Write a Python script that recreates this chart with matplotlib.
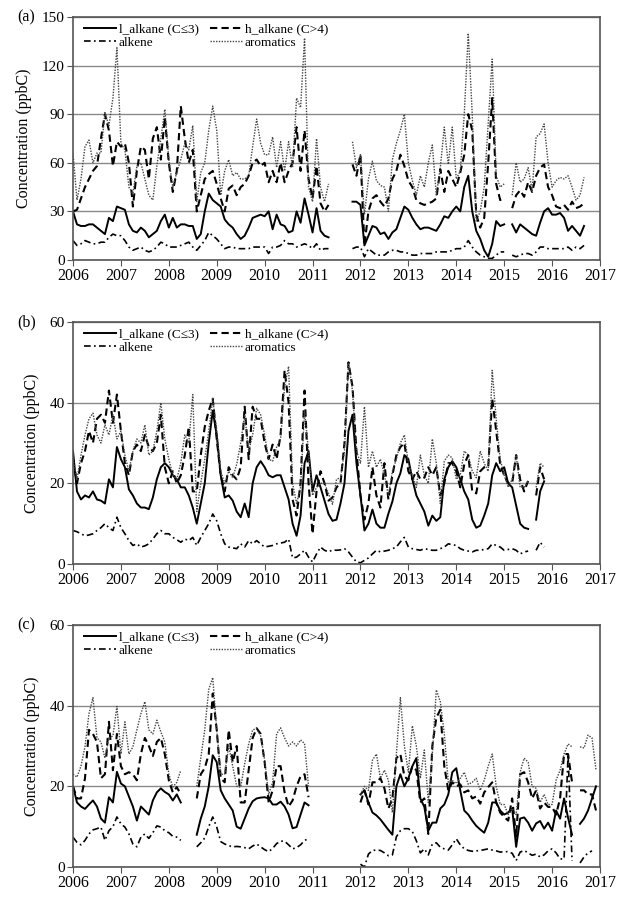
import numpy as np
import matplotlib
matplotlib.use("Agg")
import matplotlib.pyplot as plt

nan = np.nan
# monthly time axis, Jan 2006 .. Dec 2016
months = 2006 + np.arange(132) / 12.0

# ---- panel (a) ----
a_l_alkane = [
    30, 22, 21, 21, 22, 22, 20, 18, 16, 26, 24, 33,
    32, 31, 22, 18, 17, 20, 18, 14, 16, 18, 24, 28,
    20, 26, 20, 22, 22, 21, 21, 13, 16, 30, 41, 37,
    35, 33, 25, 22, 20, 16, 13, 15, 20, 26, 27, 28,
    27, 30, 19, 28, 22, 21, 17, 18, 30, 23, 38, 28,
    17, 32, 18, 15, 14, nan, nan, nan, nan, nan, 36, 36,
    34, 9, 15, 21, 20, 16, 17, 13, 17, 19, 26, 33,
    31, 26, 22, 19, 20, 20, 19, 18, 22, 27, 26, 30,
    33, 30, 45, 52, 30, 18, 13, 6, 2, 10, 24, 21,
    22, nan, 22, 17, 22, 20, 18, 16, 15, 23, 30, 32,
    28, 28, 29, 26, 18, 21, 18, 15, 21, nan, nan, nan]
a_h_alkane = [
    30, 31, 38, 45, 50, 55, 58, 75, 90, 80, 58, 73,
    70, 72, 60, 33, 55, 70, 68, 50, 75, 82, 62, 88,
    60, 42, 55, 95, 75, 60, 68, 30, 40, 50, 53, 55,
    47, 38, 30, 44, 46, 40, 45, 47, 52, 60, 62, 58,
    60, 48, 55, 48, 60, 48, 55, 60, 82, 55, 80, 50,
    38, 58, 35, 30, 34, nan, nan, nan, nan, nan, 59, 52,
    65, 9, 30, 38, 40, 36, 33, 38, 50, 55, 65, 58,
    49, 45, 37, 35, 34, 35, 36, 38, 56, 42, 55, 50,
    45, 54, 65, 90, 80, 28, 20, 26, 60, 100, 47, 37,
    38, nan, 32, 40, 43, 39, 48, 42, 52, 57, 59, 45,
    40, 33, 32, 34, 31, 36, 32, 33, 35, nan, nan, nan]
a_alkene = [
    12, 9, 10, 12, 11, 10, 10, 11, 11, 14, 16, 15,
    15, 12, 8, 6, 7, 8, 6, 5, 6, 8, 11, 10,
    8, 8, 8, 9, 10, 11, 8, 6, 9, 12, 17, 15,
    13, 10, 7, 8, 8, 7, 7, 7, 7, 8, 8, 8,
    8, 4, 8, 8, 9, 12, 10, 10, 8, 9, 10, 9,
    7, 10, 6, 7, 7, nan, nan, nan, nan, nan, 7, 8,
    8, 2, 7, 5, 3, 3, 3, 5, 6, 6, 5, 5,
    4, 3, 3, 4, 4, 4, 4, 5, 5, 5, 5, 6,
    7, 7, 8, 12, 8, 5, 3, 2, 1, 1, 3, 5,
    5, nan, 3, 2, 3, 4, 4, 3, 5, 8, 8, 7,
    7, 7, 7, 7, 8, 6, 8, 7, 9, nan, nan, nan]
a_aromatics = [
    66, 37, 50, 70, 74, 60, 66, 66, 91, 83, 100, 131,
    72, 68, 45, 41, 58, 60, 50, 40, 37, 58, 75, 93,
    62, 45, 54, 62, 72, 68, 83, 36, 54, 60, 80, 95,
    80, 40, 55, 62, 52, 54, 50, 50, 52, 70, 87, 72,
    65, 65, 76, 57, 73, 55, 73, 57, 100, 94, 137, 45,
    36, 75, 45, 36, 47, nan, nan, nan, nan, nan, 73, 57,
    65, 28, 50, 61, 49, 46, 45, 30, 62, 72, 80, 90,
    60, 49, 40, 52, 45, 60, 71, 40, 57, 82, 59, 82,
    50, 55, 90, 140, 90, 24, 30, 45, 84, 124, 52, 45,
    47, nan, 40, 60, 48, 50, 57, 43, 76, 78, 84, 60,
    45, 49, 51, 50, 52, 45, 37, 40, 51, nan, nan, nan]

# ---- panel (b) ----
b_l_alkane = [
    28, 18, 16, 17, 16.5, 18, 16, 15.7, 15, 21, 19, 29,
    26, 24, 18.5, 17, 15, 14, 14, 13.6, 16.5, 21, 24, 25,
    24, 22, 21, 19, 19, 17, 14, 10, 15, 20, 30, 38,
    32, 22, 16.5, 17, 15.7, 13, 11.6, 15, 11.6, 20, 24, 25.5,
    24, 22, 21.5, 22, 22, 19, 16, 10, 7, 12, 25, 28,
    18, 22, 19, 15.7, 12.4, 10.7, 11, 15, 20, 33, 37, 25,
    17, 8.3, 10, 13.5, 10, 9, 9, 12.5, 15.5, 20, 22.5, 27,
    26, 21, 17, 15, 13, 9.5, 12, 10.7, 11.6, 21, 24, 25.5,
    24, 21, 18, 16, 11, 9, 9.5, 12, 15, 22, 25, 23,
    24, 20, 19, 14.5, 10, 9, 8.7, nan, 11, 18, 20.5, nan,
    nan, nan, nan, nan, nan, nan, nan, nan, nan, nan, nan, nan]
b_h_alkane = [
    26, 20, 25, 28, 33, 30, 36, 37, 35, 43, 35, 42,
    33, 25, 22, 28, 29.6, 28, 32, 29, 28, 30, 37, 24,
    20, 23, 20, 22, 27, 34, 18, 18, 27, 34, 38, 41,
    31, 22, 18, 24, 22, 21, 24, 39, 26, 39, 36, 36,
    30, 26, 29.6, 26, 32, 48, 40, 16, 12, 20, 43, 20,
    7.5, 18, 23, 20, 15.7, 16.5, 19, 20, 30, 50, 44, 28,
    17, 11, 15, 24, 17, 14, 25, 16, 22, 27, 29, 30,
    23, 21, 23, 21, 21.4, 24, 22, 24, 17, 20, 25, 25,
    23, 19, 24.7, 27, 18, 17.5, 23, 24, 24, 41, 33, 24.7,
    22, 20, 20, 27, 21, 18, 20.6, nan, 17, 24, 21, nan,
    nan, nan, nan, nan, nan, nan, nan, nan, nan, nan, nan, nan]
b_alkene = [
    8.3, 8, 7.5, 7, 7.2, 7.5, 8.3, 9, 10, 9, 8.3, 11.6,
    9, 7.5, 5.8, 4.6, 5, 4.2, 4.5, 5, 6.2, 7.5, 8.3, 7.5,
    7.5, 6.6, 6, 5.4, 6.2, 5.8, 6.6, 4.6, 6.6, 8.3, 10, 12.4,
    10.7, 7.5, 5, 4.2, 4, 3.8, 5, 4.2, 5.8, 5, 5.8, 5,
    4.2, 4.4, 4.6, 5, 5.2, 5.4, 6.2, 1.5, 1.7, 2.5, 3.4, 1.7,
    0.5, 2.5, 4.2, 3.4, 3, 3.5, 3.4, 3.5, 3.8, 3, 1.7, 0.5,
    0.3, 0.9, 1.5, 2.5, 3.4, 3, 3.2, 3.4, 3.8, 4.2, 5.5, 6.6,
    4.2, 3.8, 3.6, 3.4, 3.8, 3.6, 3.4, 3.4, 3.8, 4.2, 5, 4.8,
    4.6, 3.8, 3.4, 3.2, 3, 3.4, 3.4, 3.6, 3.8, 5, 4.6, 4.2,
    3.4, 3.6, 3.8, 3.4, 2.5, 3, 3.2, nan, 3.4, 5.4, 4.2, nan,
    nan, nan, nan, nan, nan, nan, nan, nan, nan, nan, nan, nan]
b_aromatics = [
    26, 21, 27, 32, 36, 37.4, 32, 30, 34.5, 32, 37, 31,
    33, 27, 23, 28, 31, 30, 34.5, 27, 28, 33, 40, 31,
    26, 22, 21, 25, 32, 30, 42, 13, 20, 26, 33, 41,
    33, 23, 20, 23, 21.4, 24.7, 30, 37, 28, 32, 38.6, 37,
    32, 26, 25.5, 29, 31, 44, 49, 20, 15, 19, 38, 28,
    17, 19, 20, 20, 17.5, 14.8, 21, 21.4, 28, 50, 43, 28,
    25, 39, 24, 28, 24, 26, 22, 17, 23, 26, 30, 32,
    25, 22, 19, 27, 22, 20, 31, 25, 15, 25.5, 27, 26.3,
    21, 22, 28, 27, 23, 21.4, 28, 25, 23, 48, 36, 26,
    22, 19, 21, 27, 19, 19, 20.6, nan, 19, 25, 24, nan,
    nan, nan, nan, nan, nan, nan, nan, nan, nan, nan, nan, nan]

# ---- panel (c) ----
c_l_alkane = [
    20, 16, 15, 14.4, 15.5, 16.5, 15, 12, 11, 17.3, 16, 23.6,
    20.7, 20, 17.5, 15, 11.5, 15, 14, 13, 16.5, 18.5, 19.5, 18.6,
    18, 16.5, 18, 16, nan, nan, nan, 8, 12, 15, 20, 27.7,
    26, 19, 17, 15.5, 14, 10, 9.5, 12, 14.5, 16.3, 17, 17.2,
    17.3, 17, 15.5, 15.5, 16.2, 15, 13, 9.6, 9.9, 13, 16, 15.3,
    nan, nan, nan, nan, nan, nan, nan, nan, nan, nan, nan, nan,
    18, 19, 16, 13.5, 12.8, 11.8, 10.5, 9.2, 8, 20, 23, 20,
    22, 25, 27, 17, 14.9, 9, 11, 11, 14.5, 15.5, 18, 23.5,
    24.5, 19, 14, 13, 11.5, 10.2, 9.3, 8.5, 11, 16, 16, 14,
    13, 13.5, 14.5, 5, 12, 12.3, 11, 9, 10.8, 11.4, 9.5, 11,
    9, 14, 12, 17, 12.2, 8, nan, 10.7, 12, 14, 17, 20]
c_h_alkane = [
    20, 17, 17, 22, 34, 33, 31, 22, 23, 36, 24, 33,
    25, 23, 23.5, 23, 21.5, 28, 32, 30, 27.5, 31, 32, 28,
    21.5, 18.5, 19.8, 18, nan, nan, nan, 17, 23, 24.5, 28, 43,
    34, 22, 21, 34, 26, 30, 16, 16, 24, 32, 34.4, 33,
    26, 16, 19, 25, 25, 18.5, 15, 16.5, 20, 22.5, 23, 17.3,
    nan, nan, nan, nan, nan, nan, nan, nan, nan, nan, nan, nan,
    16, 19, 15.5, 21, 21, 22, 19.5, 14.5, 17, 27, 28, 22.5,
    21.5, 25, 24, 16, 17, 8.2, 30, 37, 39, 25, 19, 21,
    20, 20.5, 18.5, 19, 17, 17.5, 15.7, 18.5, 19.8, 21, 16, 13.5,
    12.4, 11.5, 17, 7.5, 23, 23.5, 21, 17, 19, 14.5, 16, 14.9,
    14.9, 13, 17, 28, 28, 21, nan, 19, 19, 18, 18, 14]
c_alkene = [
    7.4, 6.1, 5.5, 6.6, 8.2, 9.2, 9.5, 9.9, 6.6, 9, 10, 12.4,
    10.7, 9.9, 8.2, 5.7, 5, 7.4, 8.2, 7.1, 8.5, 10.2, 9.9, 9,
    8.5, 7.6, 7.4, 6.6, nan, nan, nan, 5, 6, 7.2, 10, 12.4,
    9.9, 6.3, 5.7, 5.3, 5, 5.1, 5, 4.8, 4.5, 5.2, 5.7, 5,
    4.3, 3.8, 4.6, 5.8, 6.4, 6.4, 5.5, 4.5, 4.8, 5.5, 6.6, 7,
    nan, nan, nan, nan, nan, nan, nan, nan, nan, nan, nan, nan,
    0.7, 0, 3.2, 4.1, 4.2, 4.1, 3.5, 2.8, 3, 7.5, 9, 9.5,
    9.5, 8.8, 6.5, 3.5, 4.5, 3, 5.7, 6, 4.9, 4.5, 4.2, 5.5,
    7, 5.5, 4.5, 4.1, 3.9, 4, 4.1, 4.3, 4.5, 4.2, 4, 3.7,
    3.8, 3.8, 3.4, 1.6, 3.7, 4.1, 3.5, 2.9, 3.2, 2.5, 3, 4,
    4.5, 3.5, 2, 2, 28, 1.5, nan, 1, 2.5, 3.5, 4, nan]
c_aromatics = [
    23, 22.3, 25, 29.8, 38, 42, 32, 31, 27, 32, 32.5, 39.8,
    28, 36, 28, 29.8, 34, 38, 41, 34, 33, 36.4, 33.5, 31,
    23, 19.8, 21, 24, nan, nan, nan, 20, 27, 34, 44, 47,
    34, 23, 23, 30, 25, 20, 19.8, 25.6, 30.5, 34, 34.3, 32.5,
    26.5, 18, 21, 33, 34.5, 32, 30, 31, 30, 31.5, 30.6, 20,
    nan, nan, nan, nan, nan, nan, nan, nan, nan, nan, nan, nan,
    18, 20, 19, 26.5, 28, 22, 24, 21.5, 13.5, 28, 42, 30,
    23.5, 35, 30, 22, 29, 16, 28, 43.9, 41, 33, 21, 21.5,
    20.7, 22, 23.5, 20.5, 21, 22, 19, 21.5, 25, 28, 20, 15.5,
    15.5, 13, 14.5, 13, 23.5, 27, 26, 20, 19.5, 16, 18, 15.5,
    15.5, 21.5, 24, 28, 30.5, 29.8, nan, 29.8, 29.5, 32.7, 32, 24]

years = list(range(2006, 2018))
labels = ['l_alkane (C\u22643)', 'alkene', 'h_alkane (C>4)', 'aromatics']

plt.rcParams['font.family'] = ['Liberation Serif', 'DejaVu Serif']
plt.rcParams['font.size'] = 11

fig = plt.figure(figsize=(6.35, 8.99), dpi=100)
W, H = 635.0, 899.0


def draw_panel(top, bottom, tag, ymax, ystep, l_alk, h_alk, alk, arom):
    rect = [73 / W, 1 - bottom / H, 527 / W, (bottom - top) / H]
    ax = fig.add_axes(rect)
    l1, = ax.plot(months, l_alk, color='black', lw=1.4)
    l2, = ax.plot(months, h_alk, color='black', lw=1.5, dashes=(3.5, 2))
    l3, = ax.plot(months, alk, color='black', lw=1.2, dashes=(4, 2, 1, 2))
    l4, = ax.plot(months, arom, color='#444444', lw=1.0, dashes=(1, 1))

    ax.set_xlim(2006, 2017)
    ax.set_ylim(0, ymax)
    ax.set_xticks(years)
    ax.set_xticklabels([str(y) for y in years], fontsize=11.5)
    ax.set_yticks(np.arange(0, ymax + 1, ystep))
    ax.yaxis.grid(True, color='#8a8a8a', lw=1.0)
    ax.set_axisbelow(True)
    ax.tick_params(direction='out', length=4, width=0.8, color='#555555')
    ax.tick_params(axis='x', pad=2)
    ax.tick_params(axis='y', pad=2)
    for s in ax.spines.values():
        s.set_color('#555555')
        s.set_linewidth(1.2)
    ax.set_ylabel('Concentration (ppbC)', labelpad=7, fontsize=11.5)

    ax.legend([l1, l3, l2, l4], labels, ncol=2, loc='upper left',
              bbox_to_anchor=(0.01, 1.0), frameon=False, fontsize=9.5,
              handlelength=2.4, handletextpad=0.2, columnspacing=0.9,
              labelspacing=0.1, borderaxespad=0.05)
    fig.text(17 / W, 1 - top / H, tag, va='center', ha='left', fontsize=11.5)
    return ax


draw_panel(17, 260, '(a)', 150, 30, a_l_alkane, a_h_alkane, a_alkene, a_aromatics)
draw_panel(322, 564, '(b)', 60, 20, b_l_alkane, b_h_alkane, b_alkene, b_aromatics)
draw_panel(625, 867, '(c)', 60, 20, c_l_alkane, c_h_alkane, c_alkene, c_aromatics)

fig.savefig('out.png', dpi=100)
